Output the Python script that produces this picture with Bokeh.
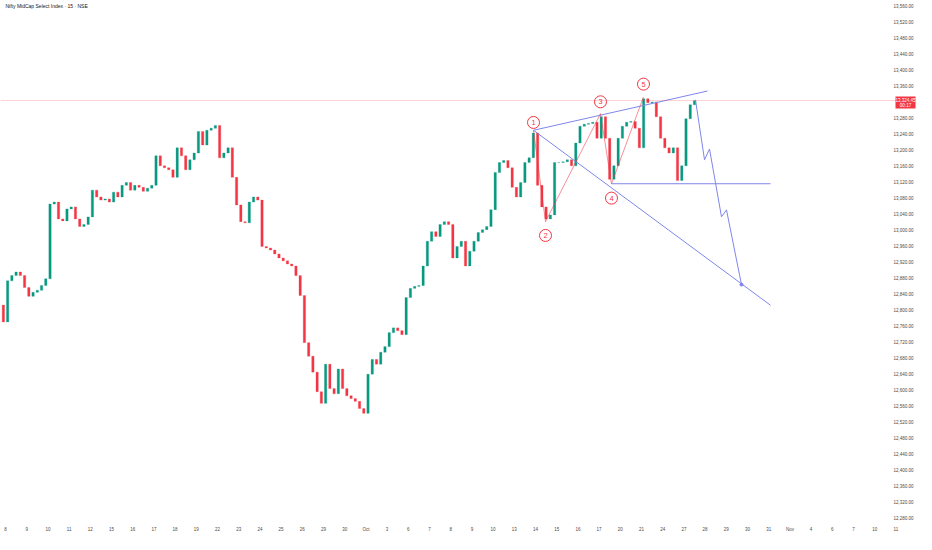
from bokeh.plotting import figure
from bokeh.models import Range1d, FixedTicker, Span, Label, ColumnDataSource
from bokeh.embed import file_html
from bokeh.resources import INLINE
from bokeh.core.properties import value

TITLE = "Nifty MidCap Select Index · 15 · NSE"

# x-axis: one slot per trading day
day_labels = ["8", "9", "10", "11", "12", "15", "16", "17", "18", "19", "22", "23", "24", "25",
              "26", "29", "30", "Oct", "3", "6", "7", "8", "9", "10", "13", "14", "15", "16",
              "17", "20", "21", "24", "27", "28", "29", "30", "31", "Nov", "4", "6", "7", "10", "11"]

price_ticks = [12280 + 40 * i for i in range(33) if 12280 + 40 * i != 13320]

BARS_PER_DAY = 5
first_day = -1          # last bar of the previous session is visible at the left edge
first_slot = 4
first_open = 12812

closes = [
    12770,
    12873, 12886, 12895, 12886, 12856,
    12834, 12844, 12849, 12861, 12878,
    13065, 13070, 13028, 13023, 13053,
    13058, 13028, 13009, 13014, 13033,
    13100, 13083, 13075, 13078, 13070,
    13095, 13083, 13112, 13119, 13100,
    13112, 13107, 13097, 13105, 13112,
    13186, 13161, 13156, 13151, 13132,
    13206, 13186, 13151, 13176, 13193,
    13247, 13213, 13250, 13255, 13262,
    13181, 13193, 13206, 13132, 13063,
    13021, 13018, 13070, 13083, 13075,
    12959, 12955, 12950, 12940, 12930,
    12923, 12915, 12910, 12886, 12836,
    12718, 12684, 12644, 12595, 12566,
    12664, 12603, 12590, 12652, 12603,
    12585, 12578, 12571, 12553, 12541,
    12639, 12676, 12664, 12694, 12708,
    12743, 12755, 12748, 12738, 12831,
    12854, 12859, 12861, 12910, 12972,
    12996, 12984, 13014, 13021, 13014,
    12930, 12959, 12972, 12910, 12947,
    12972, 12994, 13001, 13009, 13051,
    13144, 13169, 13174, 13156, 13107,
    13083, 13119, 13169, 13181, 13243,
    13112, 13058, 13028, 13038, 13169,
    13169, 13171, 13176, 13161, 13218,
    13260, 13265, 13267, 13270, 13230,
    13284, 13230, 13127, 13161, 13230,
    13260, 13270, 13272, 13255, 13206,
    13329, 13319, 13321, 13284, 13230,
    13206, 13193, 13206, 13124, 13161,
    13279, 13314, 13324,
]

last_price = 13324.45
last_price_text = "13,324.45"
countdown_text = "00:17"

# Elliott-style wave annotation (day position, price)
wave_names = ["1", "2", "3", "4", "5"]
wave_days = [24.906, 25.472, 28.066, 28.585, 30.094]
wave_prices = [13249.9, 13020.9, 13291.7, 13116.0, 13333.5]
badge_prices = [13269.5, 12986.5, 13321.2, 13080.0, 13365.5]

upper_line_days = [24.906, 33.113]
upper_line_prices = [13249.9, 13348.3]
lower_line_days = [24.906, 36.085]
lower_line_prices = [13249.9, 12811.7]
support_days = [28.585, 36.085]
support_prices = [13116.0, 13116.0]

proj_days = [32.547, 32.972, 33.208, 33.774, 34.009, 34.717]
proj_prices = [13326.2, 13176.0, 13203.1, 13033.2, 13050.5, 12863.4]

UP = "#089981"
DOWN = "#f23645"
DRAW = "#7f86ea"
AXIS_TEXT = "#4a4a4a"
FONT = "Liberation Sans"

# ---- layout constants (screen) ----
W, H = 916, 534
X0, X1 = -0.236, 42.972          # day range shown across the whole width
Y0, Y1 = 12272.5, 13575.0        # price range shown
FRAME_H = 520
px_per_day = W / (X1 - X0)
price_per_px = (Y1 - Y0) / FRAME_H

# ---- build candles ----
xs, tops, bottoms, colors = [], [], [], []
prev = first_open
for k, c in enumerate(closes):
    idx = first_slot + k
    day = first_day + idx // BARS_PER_DAY
    slot = idx % BARS_PER_DAY
    xs.append(day + (slot + 0.5) / BARS_PER_DAY)
    tops.append(max(prev, c))
    bottoms.append(min(prev, c) - 0.001)
    colors.append(UP if c >= prev else DOWN)
    prev = c
src = ColumnDataSource(dict(x=xs, top=tops, bottom=bottoms, color=colors))

p = figure(width=W, height=H, output_backend="svg", toolbar_location=None,
           x_range=Range1d(X0, X1), y_range=Range1d(Y0, Y1),
           y_axis_location=None, min_border_left=0, min_border_top=0,
           min_border_bottom=0, min_border_right=0)
p.outline_line_color = None
p.grid.visible = False
p.background_fill_color = "white"

p.vbar(x="x", top="top", bottom="bottom", width=0.11, color="color", line_color="color",
       line_width=0.3, source=src)

p.add_layout(Span(location=last_price, dimension="width", line_color=DOWN,
                  line_alpha=0.22, line_width=1))

# trend lines
p.line(upper_line_days, upper_line_prices, line_color=DRAW, line_width=1)
p.line(lower_line_days, lower_line_prices, line_color=DRAW, line_width=1)
p.line(support_days, support_prices, line_color=DRAW, line_width=1)
p.line(proj_days, proj_prices, line_color=DRAW, line_width=1)
p.scatter([proj_days[-1]], [proj_prices[-1]], size=3, color=DRAW)

# wave zigzag and badges
p.line(wave_days, wave_prices, line_color=DOWN, line_width=0.7, line_alpha=0.8)
p.scatter(wave_days, badge_prices, size=12, fill_color="white", line_color=DOWN, line_width=1)
p.text(wave_days, badge_prices, text=wave_names, text_color=DOWN, text_font=value(FONT),
       text_font_size="7.5px", text_align="center", text_baseline="middle")

# bottom axis (dates)
xax = p.xaxis[0]
xax.ticker = FixedTicker(ticks=list(range(len(day_labels))))
xax.major_label_overrides = {i: s for i, s in enumerate(day_labels)}
xax.axis_line_color = None
xax.major_tick_line_color = None
xax.minor_tick_line_color = None
xax.major_tick_out = 0
xax.major_tick_in = 0
xax.minor_tick_out = 0
xax.major_label_text_font = FONT
xax.major_label_text_font_size = "4.5px"
xax.major_label_text_color = AXIS_TEXT
xax.major_label_standoff = 6

# price scale on the right (drawn inside the plot area so the last-price tag can overlap it)
scale_x = X1 - 3 / px_per_day
p.text([scale_x] * len(price_ticks), price_ticks, text=[f"{v:,.2f}" for v in price_ticks],
       text_color=AXIS_TEXT, text_font=value(FONT), text_font_size="4.5px",
       text_align="right", text_baseline="middle")

tag_x = X1 - 11 / px_per_day
p.rect([tag_x], [last_price - 2 * price_per_px], width=20, height=12,
       width_units="screen", height_units="screen", fill_color=DOWN, line_color=None)
p.text([tag_x], [last_price], text=[last_price_text], text_color="white",
       text_font=value(FONT), text_font_size="4.5px", text_align="center",
       text_baseline="middle", y_offset=-1)
p.text([tag_x], [last_price], text=[countdown_text], text_color="white",
       text_font=value(FONT), text_font_size="4.5px", text_align="center",
       text_baseline="middle", y_offset=5)

# title
p.add_layout(Label(x=0.0, y=Y1 - 5 * price_per_px, text=TITLE, text_font=FONT,
                   text_font_size="5px", text_color="#131722", text_baseline="middle"))

open("out.html", "w").write(file_html(p, INLINE))
